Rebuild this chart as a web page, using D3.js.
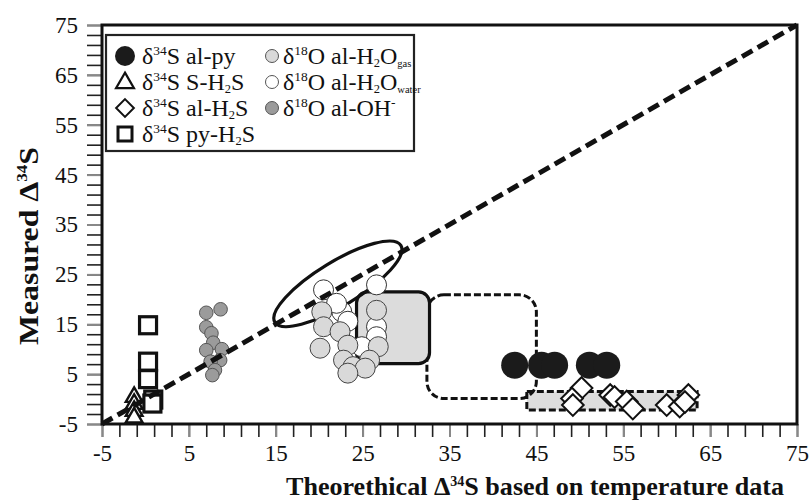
<!DOCTYPE html>
<html><head><meta charset="utf-8">
<script src="https://cdn.jsdelivr.net/npm/d3@7/dist/d3.min.js"></script>
<style>html,body{margin:0;padding:0;background:#fff;}svg{display:block;}</style>
</head><body>
<svg id="c" width="810" height="502"></svg>
<script>
// ---- data ----
const xTicks = [-5, 5, 15, 25, 35, 45, 55, 65, 75];
const yTicks = [-5, 5, 15, 25, 35, 45, 55, 65, 75];
const alPy = [[42.5,6.8],[45.6,6.8],[47.1,6.8],[51.1,6.8],[53.1,6.8]];
const sH2S = [[-1.3,0.4],[-1.3,-1.0],[-1.3,-2.4],[-1.3,-3.7]];
const alH2S = [[50.2,2.2],[49.1,0.1],[49.2,-1.2],[53.5,0.8],[54.0,0.4],[55.4,-0.5],[56.1,-1.9],[62.5,0.8],[60.0,-1.2],[61.5,-1.5],[62.1,-0.6]];
const pyH2S = [[0.3,14.8],[0.3,7.5],[0.3,4.0],[0.9,-0.1],[0.8,-0.9]];
const oWater = [[20.5,21.9],[26.6,22.9],[22.6,17.5],[22.0,19.2],[23.3,15.6],[26.6,14.5],[26.6,12.5],[24.9,10.5]];
const oGas = [[20.3,17.5],[20.5,14.5],[20.1,10.2],[22.4,13.5],[23.3,10.8],[26.6,17.8],[26.8,10.5],[22.8,7.8],[25.8,7.8],[23.9,6.5],[25.3,6.2],[23.3,5.2]];
const oOH = [[7.0,17.3],[8.65,18.0],[7.0,14.4],[7.6,13.2],[7.8,11.3],[7.0,9.8],[8.8,10.0],[8.6,7.8],[7.5,7.5],[8.0,5.8],[7.7,4.8]];
const oneToOne = [[-5,-5],[75,75]];
const ellipseEnds = [[14.9,15.4],[29.4,30.8]];
const solidBox = [24.3, 32.7, 7.1, 21.5];   // x0,x1,y0,y1
const dashedBox = [32.4, 45.0, 0.1, 20.9];
const band = [43.9, 63.5, -2.2, 1.5];

// ---- layout ----
const svg = d3.select('#c');
const L = 102, R = 797, T = 25, B = 424;
const x = d3.scaleLinear().domain([-5,75]).range([L,R]);
const y = d3.scaleLinear().domain([-5,75]).range([B,T]);
const serif = "'Liberation Serif','Times New Roman',serif";
const fmt = d => String(d);

// axes
const minor = d3.range(-5, 76, 2);
const gx = svg.append('g').attr('transform',`translate(0,${B})`);
gx.call(d3.axisBottom(x).tickValues(minor).tickSize(13).tickFormat(''));
const gx2 = svg.append('g').attr('transform',`translate(0,${B})`);
gx2.call(d3.axisBottom(x).tickValues(xTicks).tickSize(13).tickPadding(8).tickFormat(fmt));
const gy = svg.append('g').attr('transform',`translate(${L},0)`);
gy.call(d3.axisLeft(y).tickValues(minor).tickSize(15).tickFormat(''));
const gy2 = svg.append('g').attr('transform',`translate(${L},0)`);
gy2.call(d3.axisLeft(y).tickValues(yTicks).tickSize(15).tickPadding(9).tickFormat(fmt));
svg.selectAll('.domain').remove();
gx.selectAll('line').attr('stroke','#222').attr('stroke-width',1.6);
gy.selectAll('line').attr('stroke','#222').attr('stroke-width',1.6);
gx2.selectAll('line').attr('stroke','#888').attr('stroke-width',2);
gy2.selectAll('line').attr('stroke','#888').attr('stroke-width',2);
svg.selectAll('.tick text').attr('font-family',serif).attr('font-size',23).attr('fill','#111');

// regions
svg.append('rect')
  .attr('x',x(band[0])).attr('y',y(band[3]))
  .attr('width',x(band[1])-x(band[0])).attr('height',y(band[2])-y(band[3]))
  .attr('fill','#dddddd').attr('stroke','#111').attr('stroke-width',3).attr('stroke-dasharray','7,3');
svg.append('rect')
  .attr('x',x(dashedBox[0])).attr('y',y(dashedBox[3]))
  .attr('width',x(dashedBox[1])-x(dashedBox[0])).attr('height',y(dashedBox[2])-y(dashedBox[3]))
  .attr('rx',17).attr('fill','none').attr('stroke','#111').attr('stroke-width',3).attr('stroke-dasharray','7,3');
svg.append('rect')
  .attr('x',x(solidBox[0])).attr('y',y(solidBox[3]))
  .attr('width',x(solidBox[1])-x(solidBox[0])).attr('height',y(solidBox[2])-y(solidBox[3]))
  .attr('rx',11).attr('fill','#dcdcdc').attr('stroke','#111').attr('stroke-width',3.2);
{
  const [a,b] = ellipseEnds.map(p=>[x(p[0]),y(p[1])]);
  const cx=(a[0]+b[0])/2, cy=(a[1]+b[1])/2;
  const rxE=Math.hypot(b[0]-a[0],b[1]-a[1])/2;
  const ang=Math.atan2(b[1]-a[1],b[0]-a[0])*180/Math.PI;
  svg.append('ellipse').attr('cx',cx).attr('cy',cy).attr('rx',rxE).attr('ry',22)
    .attr('transform',`rotate(${ang},${cx},${cy})`)
    .attr('fill','none').attr('stroke','#111').attr('stroke-width',3.2);
}

// points
const sym = (type,size)=>d3.symbol().type(type).size(size)();
svg.append('g').selectAll('circle').data(oOH).join('circle')
  .attr('cx',d=>x(d[0])).attr('cy',d=>y(d[1])).attr('r',6.8)
  .attr('fill','#9b9b9b').attr('stroke','#555').attr('stroke-width',1);
svg.append('g').selectAll('circle').data(oWater).join('circle')
  .attr('cx',d=>x(d[0])).attr('cy',d=>y(d[1])).attr('r',10)
  .attr('fill','#fff').attr('stroke','#333').attr('stroke-width',1);
svg.append('g').selectAll('circle').data(oGas).join('circle')
  .attr('cx',d=>x(d[0])).attr('cy',d=>y(d[1])).attr('r',10)
  .attr('fill','#d9d9d9').attr('stroke','#444').attr('stroke-width',1);
svg.append('g').selectAll('circle').data(alPy).join('circle')
  .attr('cx',d=>x(d[0])).attr('cy',d=>y(d[1])).attr('r',13.5)
  .attr('fill','#1b1b1b');
svg.append('g').selectAll('path').data(alH2S).join('path')
  .attr('d',sym(d3.symbolDiamond2, 300))
  .attr('transform',d=>`translate(${x(d[0])},${y(d[1])})`)
  .attr('fill','#fff').attr('stroke','#111').attr('stroke-width',2);
svg.append('g').selectAll('path').data(sH2S).join('path')
  .attr('d',sym(d3.symbolTriangle2, 200))
  .attr('transform',d=>`translate(${x(d[0])},${y(d[1])})`)
  .attr('fill','#fff').attr('stroke','#111').attr('stroke-width',2.4);
svg.append('g').selectAll('rect').data(pyH2S).join('rect')
  .attr('x',d=>x(d[0])-8.5).attr('y',d=>y(d[1])-8.5).attr('width',17).attr('height',17)
  .attr('fill','#fff').attr('stroke','#111').attr('stroke-width',3.2);

// 1:1 line
svg.append('line')
  .attr('x1',x(oneToOne[0][0])).attr('y1',y(oneToOne[0][1]))
  .attr('x2',x(oneToOne[1][0])).attr('y2',y(oneToOne[1][1]))
  .attr('stroke','#111').attr('stroke-width',5).attr('stroke-dasharray','12,6');

// frame
svg.append('rect').attr('x',L).attr('y',T).attr('width',R-L).attr('height',B-T)
  .attr('fill','none').attr('stroke','#111').attr('stroke-width',3);

// legend
const lg = svg.append('g');
lg.append('rect').attr('x',106).attr('y',35).attr('width',308).attr('height',116)
  .attr('fill','#fff').attr('stroke','#222').attr('stroke-width',2.2);
const rows = [56, 82, 108, 134];
const c1 = 125, c2 = 272;
lg.append('circle').attr('cx',c1).attr('cy',rows[0]).attr('r',10).attr('fill','#1b1b1b');
lg.append('path').attr('d',sym(d3.symbolTriangle2,230)).attr('transform',`translate(${c1},${rows[1]+1})`)
  .attr('fill','#fff').attr('stroke','#111').attr('stroke-width',2.2);
lg.append('path').attr('d',sym(d3.symbolDiamond2,200)).attr('transform',`translate(${c1},${rows[2]})`)
  .attr('fill','#fff').attr('stroke','#111').attr('stroke-width',2);
lg.append('rect').attr('x',c1-7).attr('y',rows[3]-7).attr('width',14).attr('height',14)
  .attr('fill','#fff').attr('stroke','#111').attr('stroke-width',3);
lg.append('circle').attr('cx',c2).attr('cy',rows[0]).attr('r',6.5).attr('fill','#d9d9d9').attr('stroke','#555');
lg.append('circle').attr('cx',c2).attr('cy',rows[1]).attr('r',6.5).attr('fill','#fff').attr('stroke','#555');
lg.append('circle').attr('cx',c2).attr('cy',rows[2]).attr('r',6.5).attr('fill','#9b9b9b').attr('stroke','#555');

const fs = 24;
function legendText(px, py, parts){
  const t = lg.append('text').attr('x',px).attr('y',py).attr('font-family',serif)
    .attr('font-size',fs).attr('fill','#111');
  let off = 0;
  parts.forEach(p=>{
    const s = t.append('tspan').text(p.t);
    let target = 0, size = fs;
    if(p.sup){ target = -fs*0.36; size = fs*0.56; }
    if(p.sub){ target = fs*0.12; size = fs*(p.small?0.44:0.52); }
    s.attr('font-size',size).attr('dy',target-off);
    off = target;
  });
}
const tb = 8;
legendText(142, rows[0]+tb, [{t:'δ'},{t:'34',sup:1},{t:'S al-py'}]);
legendText(142, rows[1]+tb, [{t:'δ'},{t:'34',sup:1},{t:'S S-H'},{t:'2',sub:1},{t:'S'}]);
legendText(142, rows[2]+tb, [{t:'δ'},{t:'34',sup:1},{t:'S al-H'},{t:'2',sub:1},{t:'S'}]);
legendText(142, rows[3]+tb, [{t:'δ'},{t:'34',sup:1},{t:'S py-H'},{t:'2',sub:1},{t:'S'}]);
legendText(283, rows[0]+tb, [{t:'δ'},{t:'18',sup:1},{t:'O al-H'},{t:'2',sub:1},{t:'O'},{t:'gas',sub:1,small:1}]);
legendText(283, rows[1]+tb, [{t:'δ'},{t:'18',sup:1},{t:'O al-H'},{t:'2',sub:1},{t:'O'},{t:'water',sub:1,small:1}]);
legendText(283, rows[2]+tb, [{t:'δ'},{t:'18',sup:1},{t:'O al-OH'},{t:'-',sup:1}]);

// axis titles
const xt = svg.append('text').attr('x',286).attr('y',495).attr('font-family',serif)
  .attr('font-weight','bold').attr('font-size',26).attr('fill','#111')
  .attr('textLength',498).attr('lengthAdjust','spacingAndGlyphs');
xt.append('tspan').text('Theorethical Δ');
xt.append('tspan').text('34').attr('font-size',14).attr('dy',-9);
xt.append('tspan').text('S based on temperature data').attr('dy',9);

const yt = svg.append('text').attr('transform','translate(38,246) rotate(-90)')
  .attr('text-anchor','middle').attr('font-family',serif)
  .attr('font-weight','bold').attr('font-size',28).attr('fill','#111')
  .attr('textLength',198).attr('lengthAdjust','spacingAndGlyphs');
yt.append('tspan').text('Measured Δ');
yt.append('tspan').text('34').attr('font-size',15).attr('dy',-11);
yt.append('tspan').text('S').attr('dy',11);
</script>
</body></html>
